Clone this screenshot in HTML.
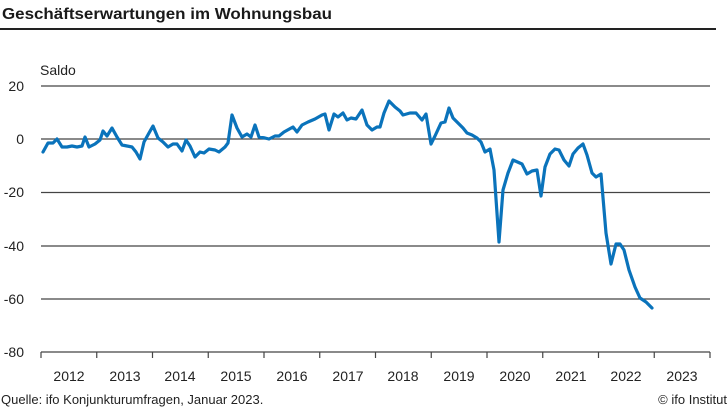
<!DOCTYPE html>
<html><head><meta charset="utf-8"><style>
body{margin:0;background:#fff;}
svg{display:block;font-family:"Liberation Sans",sans-serif;}
</style></head><body>
<svg width="728" height="410" viewBox="0 0 728 410">
<text x="2" y="19" font-size="15.5" font-weight="bold" fill="#1a1a1a" textLength="330" lengthAdjust="spacingAndGlyphs">Geschäftserwartungen im Wohnungsbau</text>
<line x1="0" y1="29" x2="716" y2="29" stroke="#222" stroke-width="2"/>
<text x="40" y="75" font-size="14" fill="#222">Saldo</text>
<g stroke="#444" stroke-width="1.2">
<line x1="41" y1="86" x2="710" y2="86"/>
<line x1="41" y1="139" x2="710" y2="139"/>
<line x1="41" y1="192.5" x2="710" y2="192.5"/>
<line x1="41" y1="246" x2="710" y2="246"/>
<line x1="41" y1="299" x2="710" y2="299"/>
<line x1="41" y1="352" x2="710" y2="352"/>
<line x1="41" y1="352" x2="41" y2="358"/><line x1="96.75" y1="352" x2="96.75" y2="358"/><line x1="152.5" y1="352" x2="152.5" y2="358"/><line x1="208.25" y1="352" x2="208.25" y2="358"/><line x1="264" y1="352" x2="264" y2="358"/><line x1="319.75" y1="352" x2="319.75" y2="358"/><line x1="375.5" y1="352" x2="375.5" y2="358"/><line x1="431.25" y1="352" x2="431.25" y2="358"/><line x1="487" y1="352" x2="487" y2="358"/><line x1="542.75" y1="352" x2="542.75" y2="358"/><line x1="598.5" y1="352" x2="598.5" y2="358"/><line x1="654.25" y1="352" x2="654.25" y2="358"/><line x1="710" y1="352" x2="710" y2="358"/>
</g>
<g font-size="14" fill="#222" text-anchor="end">
<text x="24" y="91">20</text><text x="24" y="144">0</text><text x="24" y="197">-20</text><text x="24" y="251">-40</text><text x="24" y="304">-60</text><text x="24" y="357">-80</text>
</g>
<g font-size="14" fill="#222" text-anchor="middle">
<text x="69" y="381">2012</text><text x="125" y="381">2013</text><text x="180" y="381">2014</text><text x="236" y="381">2015</text><text x="292" y="381">2016</text><text x="348" y="381">2017</text><text x="403" y="381">2018</text><text x="459" y="381">2019</text><text x="515" y="381">2020</text><text x="571" y="381">2021</text><text x="626" y="381">2022</text><text x="682" y="381">2023</text>
</g>
<text x="1" y="404" font-size="13" fill="#222">Quelle: ifo Konjunkturumfragen, Januar 2023.</text>
<text x="727" y="404" font-size="13" fill="#222" text-anchor="end">© ifo Institut</text>
<polyline fill="none" stroke="#0a73bb" stroke-width="3.2" stroke-linejoin="round" stroke-linecap="round" points="43,152 48,143 53,143 57,139 62,147 67,147 72,146 77,147 82,146 85,137 89,147 95,144 100,140 103,131 107,136 112,128 117,137 122,145 127,146 132,147 136,152 140,159 144,142 149,133 153,126 158,138 163,142 168,147 173,144 177,144 182,151 186,140 190,146 195,157 200,152 204,153 209,149 215,150 219,152 225,147 228,143 232,115 237,128 242,137 247,134 251,137 255,125 259,137 265,138 269,139 275,136 279,136 284,132 293,127 297,132 302,125 308,122 315,119 322,115 325,114 329,130 334,114 338,117 343,113 347,120 351,118 356,119 362,110 367,125 372,130 377,127 380,127 384,113 389,101 395,107 400,111 403,115 410,113 416,113 422,120 426,114 431,144 435,136 441,123 445,122 449,108 453,118 458,123 463,128 467,133 472,135 477,138 481,142 485,152 490,149 494,170 499,242 503,190 508,173 513,160 522,164 527,174 532,171 537,170 541,196 545,167 550,154 555,149 559,150 564,160 569,166 573,154 578,148 583,144 587,155 592,173 596,177 601,174 606,233 611,264 616,244 620,244 624,250 629,270 635,287 640,298 646,302 652,308"/>
</svg>
</body></html>
